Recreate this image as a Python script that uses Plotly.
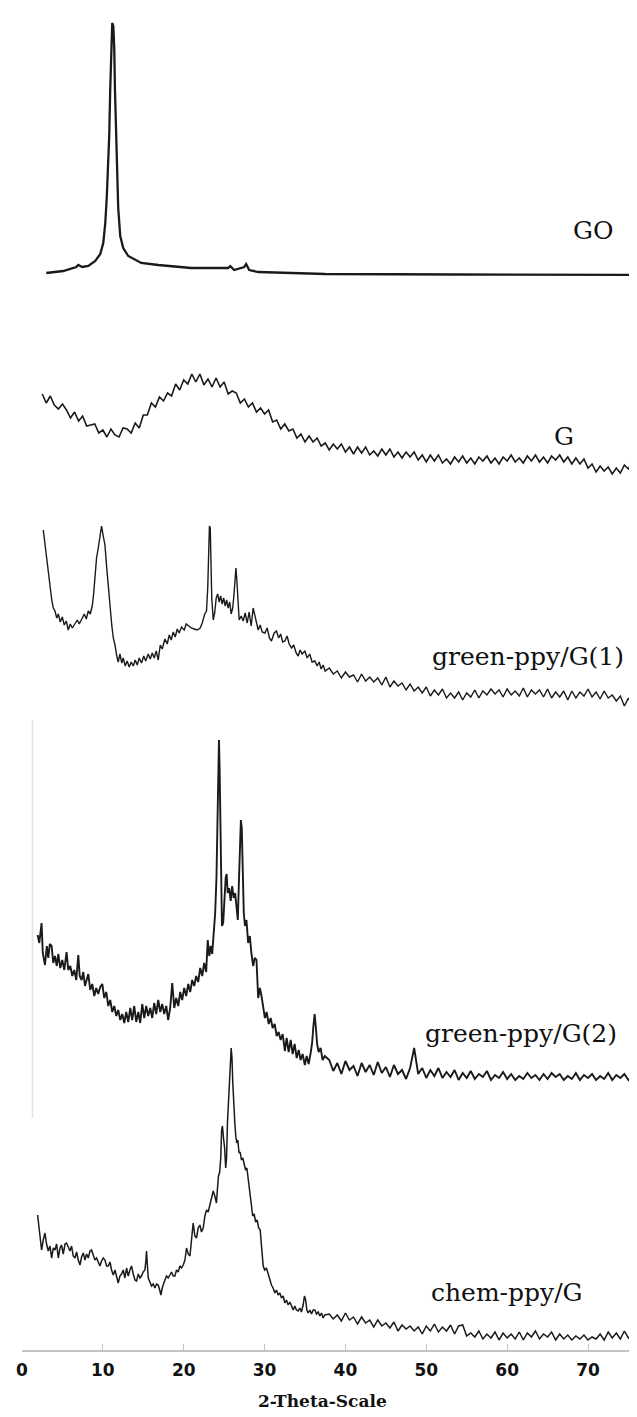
import plotly.graph_objects as go

# ---------------- data (2-theta in degrees, intensity in a.u.) ----------------
GO_2THETA = [3.0, 5.1, 6.71, 6.96, 7.45, 8.2, 9.06, 9.68, 10.05, 10.3,
             10.48, 10.67, 10.79, 10.91, 11.04, 11.16, 11.29, 11.41, 11.5, 11.66,
             11.9, 12.15, 12.52, 13.14, 14.75, 16.85, 20.93, 25.5, 25.75, 26.24,
             27.48, 27.72, 28.1, 29.21, 37.49, 53.93, 77.0]
GO_COUNTS = [2, 4, 8, 10, 8, 9, 14, 21, 32, 52,
             77, 107, 140, 185, 227, 252, 249, 227, 184, 127,
             67, 39, 27, 19, 12, 10, 7, 7, 9, 5,
             8, 11, 5, 3, 1, 0.5, 0]

# G: uniformly sampled from 2.5 deg, step 0.5 deg
G_START, G_STEP = 2.5, 0.5
G_COUNTS = [80, 71, 78, 69, 65, 70, 64, 56, 62, 53, 58, 48, 49, 50, 41, 44, 37, 45, 39, 37, 46, 45, 41, 51, 46,
            59, 59, 71, 67, 77, 73, 81, 78, 90, 84, 94, 90, 100, 92, 100, 89, 95, 87, 96, 87, 92, 80, 83, 81, 71,
            75, 67, 71, 62, 66, 60, 64, 52, 54, 45, 50, 43, 45, 36, 40, 32, 38, 32, 36, 28, 31, 24, 30, 25, 30,
            22, 27, 20, 27, 21, 27, 19, 23, 18, 25, 19, 25, 17, 22, 16, 22, 17, 22, 14, 19, 12, 19, 13, 19, 11,
            15, 10, 17, 12, 18, 11, 16, 10, 17, 13, 18, 11, 16, 10, 17, 13, 19, 12, 16, 11, 18, 13, 19, 12, 17,
            11, 18, 14, 19, 12, 17, 10, 16, 10, 15, 6, 10, 2, 8, 3, 7, 0, 6, 1, 9, 5, 13, 9, 16]

# green-ppy/G(1): detailed low-angle part + uniformly sampled tail
G1_2THETA = [2.63, 2.82, 3.04, 3.25, 3.46, 3.68, 3.87, 4.08, 4.30, 4.49,
             4.73, 4.98, 5.23, 5.48, 5.72, 5.97, 6.22, 6.55, 6.84, 7.08,
             7.37, 7.70, 7.95, 8.20, 8.44, 8.69, 8.87, 9.06, 9.22, 9.43,
             9.62, 9.84, 10.05, 10.26, 10.48, 10.67, 10.88, 11.10, 11.29, 11.50,
             11.72, 11.90, 12.11, 12.34, 12.52, 12.77, 13.01, 13.26, 13.51, 13.76,
             14.00, 14.25, 14.50, 14.78, 15.06, 15.30, 15.61, 15.86, 16.11, 16.35,
             16.60, 16.85, 17.10, 17.34, 17.68, 17.96, 18.21, 18.45, 18.70, 18.95,
             19.20, 19.44, 19.73, 20.06, 20.31, 20.56, 20.93, 21.30, 21.67, 22.04,
             22.29, 22.60, 22.82, 22.97, 23.06, 23.18, 23.28, 23.38, 23.47, 23.65,
             23.83, 24.02, 24.20, 24.39, 24.57, 24.76, 24.94, 25.13, 25.31, 25.50,
             25.69, 25.87, 26.06, 26.18, 26.34, 26.46, 26.59, 26.71, 26.86, 27.11,
             27.35, 27.60, 27.85, 28.09, 28.34, 28.59, 28.80, 29.02, 29.21, 29.46,
             29.70, 30.04, 30.32, 30.60, 30.85, 31.19, 31.47, 31.74, 31.99, 32.24,
             32.51, 32.79, 33.04, 33.33, 33.60, 33.91, 34.15, 34.40, 34.65, 34.98,
             35.27, 35.58, 35.88, 36.22, 36.50, 36.75, 37.00, 37.24, 37.49]
G1_COUNTS = [178, 165, 150, 135, 120, 108, 100, 97, 90, 94,
             86, 91, 83, 87, 78, 84, 80, 84, 88, 84,
             89, 94, 89, 97, 94, 102, 115, 135, 150, 160,
             173, 182, 172, 163, 140, 120, 103, 83, 70, 63,
             52, 46, 54, 45, 50, 42, 47, 41, 46, 42,
             48, 43, 50, 45, 52, 47, 54, 49, 55, 50,
             57, 48, 63, 59, 69, 64, 73, 68, 76, 71,
             79, 75, 81, 78, 84, 82, 80, 79, 78, 80,
             85, 94, 97, 120, 155, 182, 180, 140, 110, 88,
             95, 110, 114, 106, 112, 104, 110, 102, 108, 100,
             106, 94, 100, 110, 130, 140, 125, 100, 88, 92,
             87, 95, 85, 96, 82, 100, 93, 85, 78, 83,
             76, 75, 80, 70, 67, 75, 77, 70, 74, 66,
             67, 72, 64, 60, 63, 55, 52, 58, 54, 57,
             50, 54, 46, 47, 42, 46, 39, 43, 37]
TAIL_START, TAIL_STEP = 38.0, 0.5
G1_TAIL = [40, 34, 37, 30, 36, 31, 33, 26, 34, 27, 31, 26, 30, 23, 31, 21, 27, 22, 25, 18,
           24, 17, 21, 15, 21, 12, 18, 13, 19, 10, 15, 10, 16, 8, 15, 11, 18, 10, 17, 13,
           19, 14, 18, 11, 19, 13, 17, 12, 20, 11, 18, 14, 18, 11, 19, 10, 16, 11, 17, 8,
           17, 10, 16, 12, 19, 11, 16, 9, 17, 10, 13, 7, 12, 2, 10, 2, 6, 0]

# green-ppy/G(2)
G2_2THETA = [1.93, 2.14, 2.42, 2.57, 2.84, 3.07, 3.25, 3.44, 3.66, 3.87,
             4.08, 4.30, 4.49, 4.73, 4.98, 5.23, 5.51, 5.72, 5.97, 6.22,
             6.46, 6.71, 6.96, 7.14, 7.37, 7.58, 7.79, 8.01, 8.20, 8.44,
             8.69, 8.94, 9.18, 9.43, 9.68, 9.93, 10.17, 10.42, 10.67, 10.91,
             11.16, 11.41, 11.66, 11.90, 12.15, 12.40, 12.65, 12.89, 13.14, 13.39,
             13.63, 13.88, 14.13, 14.38, 14.62, 14.87, 15.12, 15.36, 15.61, 15.86,
             16.11, 16.35, 16.60, 16.85, 17.10, 17.34, 17.59, 17.84, 18.08, 18.33,
             18.58, 18.83, 19.07, 19.32, 19.57, 19.81, 20.06, 20.31, 20.56, 20.80,
             21.05, 21.30, 21.54, 21.79, 22.04, 22.29, 22.53, 22.78, 22.97, 23.16,
             23.34, 23.52, 23.71, 23.89, 24.05, 24.18, 24.29, 24.36, 24.44, 24.54,
             24.64, 24.73, 24.88, 25.04, 25.19, 25.31, 25.44, 25.62, 25.81, 25.99,
             26.18, 26.36, 26.55, 26.69, 26.84, 26.96, 27.07, 27.18, 27.31, 27.43,
             27.58, 27.76, 27.97, 28.18, 28.38, 28.59, 28.78, 29.00, 29.21, 29.42,
             29.62, 29.83, 30.04, 30.26, 30.51, 30.75, 31.00, 31.25, 31.50, 31.74,
             31.99, 32.24, 32.51, 32.73, 32.98, 33.23, 33.47, 33.72, 33.97, 34.22,
             34.46, 34.71, 34.98, 35.21, 35.45, 35.70, 35.88, 36.04, 36.19, 36.35,
             36.50, 36.69, 36.93, 37.18, 37.45]
G2_COUNTS = [145, 137, 157, 127, 115, 134, 122, 136, 134, 117,
             124, 114, 126, 112, 120, 110, 128, 110, 114, 104,
             110, 100, 125, 104, 100, 108, 94, 102, 106, 90,
             96, 84, 92, 86, 93, 96, 82, 88, 74, 80,
             68, 74, 64, 70, 60, 66, 57, 68, 58, 72,
             60, 74, 58, 68, 57, 76, 62, 74, 64, 72,
             62, 77, 66, 80, 68, 76, 66, 74, 60, 72,
             97, 72, 82, 74, 88, 80, 92, 84, 96, 88,
             100, 94, 104, 98, 112, 104, 117, 108, 140, 124,
             134, 126, 147, 167, 202, 252, 312, 340, 312, 242,
             172, 154, 157, 184, 202, 206, 187, 192, 179, 194,
             182, 187, 167, 160, 202, 237, 260, 252, 212, 167,
             154, 160, 137, 144, 126, 114, 122, 120, 82, 92,
             84, 72, 62, 68, 56, 62, 52, 56, 44, 48,
             40, 46, 29, 42, 28, 40, 26, 36, 22, 30,
             20, 26, 15, 24, 16, 27, 37, 54, 66, 52,
             36, 28, 32, 20, 24]
G2_TAIL = [20, 9, 17, 6, 19, 10, 14, 4, 17, 8, 15, 5, 18, 7, 13, 3, 15, 6, 10, 1,
           12, 32, 6, 12, 2, 10, 4, 12, 2, 8, 3, 10, 0, 7, 2, 9, 1, 6, 3, 9,
           0, 5, 2, 8, 1, 6, 0, 4, 1, 7, 2, 5, 0, 6, 1, 7, 3, 6, 0, 4,
           1, 7, 0, 5, 2, 6, 0, 4, 1, 7, 0, 5, 2, 6, 0, 4, 1, 5]

# chem-ppy/G
CH_2THETA = [1.93, 2.10, 2.26, 2.42, 2.63, 2.84, 3.04, 3.25, 3.46, 3.66,
             3.87, 4.08, 4.28, 4.49, 4.70, 4.89, 5.10, 5.32, 5.51, 5.72,
             5.93, 6.13, 6.34, 6.55, 6.75, 6.96, 7.17, 7.37, 7.58, 7.79,
             7.99, 8.20, 8.41, 8.60, 8.81, 9.02, 9.22, 9.43, 9.64, 9.84,
             10.05, 10.26, 10.46, 10.67, 10.88, 11.08, 11.29, 11.50, 11.69, 11.90,
             12.11, 12.31, 12.52, 12.73, 12.93, 13.14, 13.35, 13.55, 13.76, 13.97,
             14.17, 14.38, 14.59, 14.78, 14.99, 15.20, 15.33, 15.40, 15.49, 15.61,
             15.82, 16.02, 16.23, 16.44, 16.64, 16.85, 17.03, 17.18, 17.34, 17.53,
             17.68, 17.87, 18.08, 18.29, 18.49, 18.70, 18.91, 19.11, 19.32, 19.53,
             19.73, 19.94, 20.15, 20.35, 20.56, 20.77, 20.96, 21.17, 21.38, 21.58,
             21.79, 22.00, 22.20, 22.41, 22.62, 22.82, 23.03, 23.24, 23.44, 23.65,
             23.85, 24.05, 24.18, 24.30, 24.45, 24.58, 24.69, 24.79, 24.92, 25.06,
             25.19, 25.30, 25.41, 25.54, 25.66, 25.78, 25.87, 25.97, 26.07, 26.19,
             26.32, 26.44, 26.56, 26.69, 26.84, 26.98, 27.14, 27.31, 27.48, 27.65,
             27.81, 27.98, 28.16, 28.34, 28.53, 28.71, 28.90, 29.08, 29.27, 29.46,
             29.64, 29.83, 30.01, 30.23, 30.45, 30.66, 30.85, 31.06, 31.27, 31.47,
             31.68, 31.89, 32.09, 32.30, 32.51, 32.71, 32.92, 33.13, 33.33, 33.54,
             33.74, 33.94, 34.15, 34.36, 34.56, 34.77, 34.93, 35.08, 35.23, 35.39,
             35.60, 35.80, 36.01, 36.22, 36.42, 36.63, 36.84, 37.04, 37.24, 37.45]
CH_COUNTS = [125, 112, 96, 90, 100, 107, 96, 89, 94, 82,
             92, 90, 96, 82, 92, 95, 86, 96, 97, 92,
             89, 94, 84, 82, 88, 80, 75, 83, 87, 80,
             86, 82, 89, 90, 84, 80, 82, 77, 74, 79,
             82, 80, 74, 74, 78, 70, 65, 70, 62, 57,
             64, 66, 70, 62, 72, 64, 70, 74, 66, 60,
             59, 66, 62, 64, 68, 70, 80, 89, 77, 62,
             58, 54, 56, 52, 56, 55, 50, 45, 52, 58,
             60, 64, 62, 65, 68, 64, 64, 70, 68, 74,
             72, 75, 80, 92, 86, 84, 100, 117, 104, 102,
             112, 115, 108, 112, 124, 130, 128, 135, 140, 149,
             144, 137, 152, 164, 168, 182, 210, 214, 202, 192,
             172, 182, 217, 234, 252, 277, 292, 282, 257, 232,
             217, 204, 197, 200, 187, 188, 180, 182, 175, 170,
             172, 162, 152, 137, 124, 126, 118, 120, 112, 110,
             92, 74, 70, 72, 66, 60, 55, 52, 47, 50,
             45, 47, 42, 44, 37, 40, 35, 38, 34, 30,
             34, 30, 29, 32, 28, 35, 44, 40, 30, 27,
             30, 26, 30, 30, 26, 28, 24, 27, 22, 25]
CH_TAIL = [26, 21, 25, 19, 27, 20, 23, 16, 23, 17, 20, 13, 20, 14, 17, 12, 18, 9, 15, 11,
           14, 9, 13, 6, 14, 9, 16, 8, 13, 9, 15, 6, 14, 15, 4, 7, 3, 9, 1, 6,
           2, 8, 0, 7, 2, 6, 1, 8, 0, 7, 3, 9, 1, 6, 3, 8, 0, 6, 1, 5,
           0, 4, 1, 5, 0, 3, 1, 6, 0, 8, 2, 7, 1, 9, 2, 6, 0, 7]

SAMPLES = ["GO", "G", "green-ppy/G(1)", "green-ppy/G(2)", "chem-ppy/G"]
OFFSETS = [1075, 876, 642, 270, 10]          # vertical stacking offsets (a.u.)
X_TICKS = [0, 10, 20, 30, 40, 50, 60, 70]

# ---------------- assemble ----------------
def grid(start, step, n):
    return [round(start + step * i, 3) for i in range(n)]

assert len(GO_2THETA) == len(GO_COUNTS)
assert len(G1_2THETA) == len(G1_COUNTS)
assert len(G2_2THETA) == len(G2_COUNTS)
assert len(CH_2THETA) == len(CH_COUNTS)

curves = {
    "GO": (GO_2THETA, GO_COUNTS),
    "G": (grid(G_START, G_STEP, len(G_COUNTS)), G_COUNTS),
    "green-ppy/G(1)": (G1_2THETA + grid(TAIL_START, TAIL_STEP, len(G1_TAIL)), G1_COUNTS + G1_TAIL),
    "green-ppy/G(2)": (G2_2THETA + grid(TAIL_START, TAIL_STEP, len(G2_TAIL)), G2_COUNTS + G2_TAIL),
    "chem-ppy/G": (CH_2THETA + grid(TAIL_START, TAIL_STEP, len(CH_TAIL)), CH_COUNTS + CH_TAIL),
}
widths = {"GO": 2.3, "G": 1.6, "green-ppy/G(1)": 1.4, "green-ppy/G(2)": 1.9, "chem-ppy/G": 1.5}
label_pos = {"GO": (70.6, 1120), "G": (67.0, 914), "green-ppy/G(1)": (62.6, 694),
             "green-ppy/G(2)": (61.7, 317), "chem-ppy/G": (60.0, 58)}

fig = go.Figure()
for name, off in zip(SAMPLES, OFFSETS):
    xs, ys = curves[name]
    fig.add_trace(go.Scatter(x=xs, y=[v + off for v in ys], mode="lines",
                             line=dict(color="#1a1a1a", width=widths[name]),
                             name=name, showlegend=False, hoverinfo="skip"))
    lx, ly = label_pos[name]
    fig.add_annotation(x=lx, y=ly, text=name, showarrow=False, xanchor="center", yanchor="middle",
                       font=dict(family="DejaVu Serif", size=25, color="#111111"))

# faint remnant of an old vertical axis line on the left
fig.add_shape(type="line", xref="x", yref="y", x0=1.3, x1=1.3, y0=232, y1=630,
              line=dict(color="#e3e3e3", width=1.5), layer="below")

fig.add_annotation(x=0.483, y=0, xref="paper", yref="paper", yanchor="middle", yshift=-51,
                   text="2-Theta-Scale", showarrow=False,
                   font=dict(family="DejaVu Serif", size=17, color="#111111", weight="bold"))

fig.update_layout(
    width=637, height=1417,
    margin=dict(l=14, r=0, t=0, b=75),
    paper_bgcolor="white", plot_bgcolor="white",
    xaxis=dict(range=[0, 77.05], tickmode="array", tickvals=X_TICKS,
               ticktext=[str(t) for t in X_TICKS],
               showline=True, linecolor="#c4c4c4", linewidth=1.5,
               ticks="inside", ticklen=6, tickcolor="#c4c4c4", tickwidth=1.2,
               ticklabelstandoff=4,
               showgrid=False, zeroline=False,
               tickfont=dict(family="DejaVu Sans", size=17, color="#111111", weight="bold")),
    yaxis=dict(range=[0, 1342], visible=False, showgrid=False, zeroline=False),
)

fig.write_html("out.html")
